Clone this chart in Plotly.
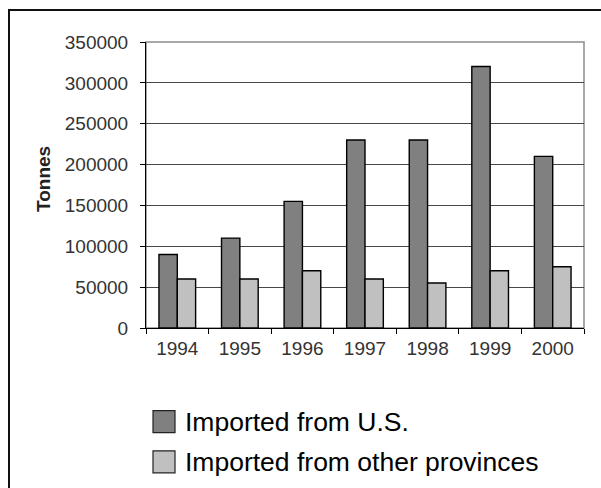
import plotly.graph_objects as go

# Annual imports in tonnes
years = ["1994", "1995", "1996", "1997", "1998", "1999", "2000"]
from_us = [90000, 110000, 155000, 230000, 230000, 320000, 210000]
from_provinces = [60000, 60000, 70000, 60000, 55000, 70000, 75000]
series_names = ["Imported from U.S.", "Imported from other provinces"]
series_colors = ["#808080", "#c0c0c0"]

W, H = 601, 488
L, R, T, B = 146, 17, 42, 160
PW, PH = W - L - R, H - T - B


def px(x):
    return (x - L) / PW


def py(y):
    return (H - B - y) / PH


FONT = "Liberation Sans, Arial, sans-serif"

fig = go.Figure()
for name, vals, col in zip(series_names, [from_us, from_provinces], series_colors):
    fig.add_trace(go.Bar(
        x=years, y=vals, name=name,
        marker=dict(color=col, line=dict(color="#000000", width=1.4)),
        showlegend=False,
    ))

fig.update_layout(
    width=W, height=H,
    margin=dict(l=L, r=R, t=T, b=B, pad=0),
    paper_bgcolor="white", plot_bgcolor="white",
    barmode="group", bargap=0.414, bargroupgap=0,
    font=dict(family=FONT, color="#222222"),
)

fig.update_xaxes(
    type="category", tickson="boundaries",
    ticks="outside", ticklen=5, tickcolor="#000000", tickwidth=1,
    showline=True, linecolor="#000000", linewidth=1,
    showgrid=False, ticklabelstandoff=3,
    tickfont=dict(size=19, family=FONT, color="#333333"),
)
fig.update_yaxes(
    range=[0, 350000], dtick=50000, tickformat="d",
    ticks="outside", ticklen=5, tickcolor="#000000", tickwidth=1,
    showline=True, linecolor="#000000", linewidth=1,
    showgrid=True, gridcolor="#474747", gridwidth=1.2,
    zeroline=False, ticklabelstandoff=8,
    tickfont=dict(size=19, family=FONT, color="#333333"),
)

shapes = [
    # plot area frame (top and right edges)
    dict(type="rect", xref="paper", yref="paper", x0=0, x1=1, y0=0, y1=1,
         line=dict(color="#8c8c8c", width=1.5), layer="below"),
    # chart frame
    dict(type="rect", xref="paper", yref="paper",
         x0=px(9), x1=px(W + 20), y0=py(H + 20), y1=py(10),
         line=dict(color="#111111", width=2)),
]

annotations = [
    dict(text="<b>Tonnes</b>", xref="paper", yref="paper",
         x=px(43), y=py(179), xanchor="center", yanchor="middle",
         textangle=-90, showarrow=False,
         font=dict(size=19, family=FONT, color="#222222")),
]

# legend drawn below the plot
row_centers = [421.7, 461.8]
for name, col, cy in zip(series_names, series_colors, row_centers):
    shapes.append(dict(type="rect", xref="paper", yref="paper",
                       x0=px(153), x1=px(175), y0=py(cy + 11), y1=py(cy - 11),
                       fillcolor=col, line=dict(color="#222222", width=1.2)))
    annotations.append(dict(text=name, xref="paper", yref="paper",
                            x=px(183), y=py(cy), xanchor="left", yanchor="middle",
                            showarrow=False,
                            font=dict(size=26.5, family=FONT, color="#000000")))

fig.update_layout(shapes=shapes, annotations=annotations)
fig.write_html("out.html")
